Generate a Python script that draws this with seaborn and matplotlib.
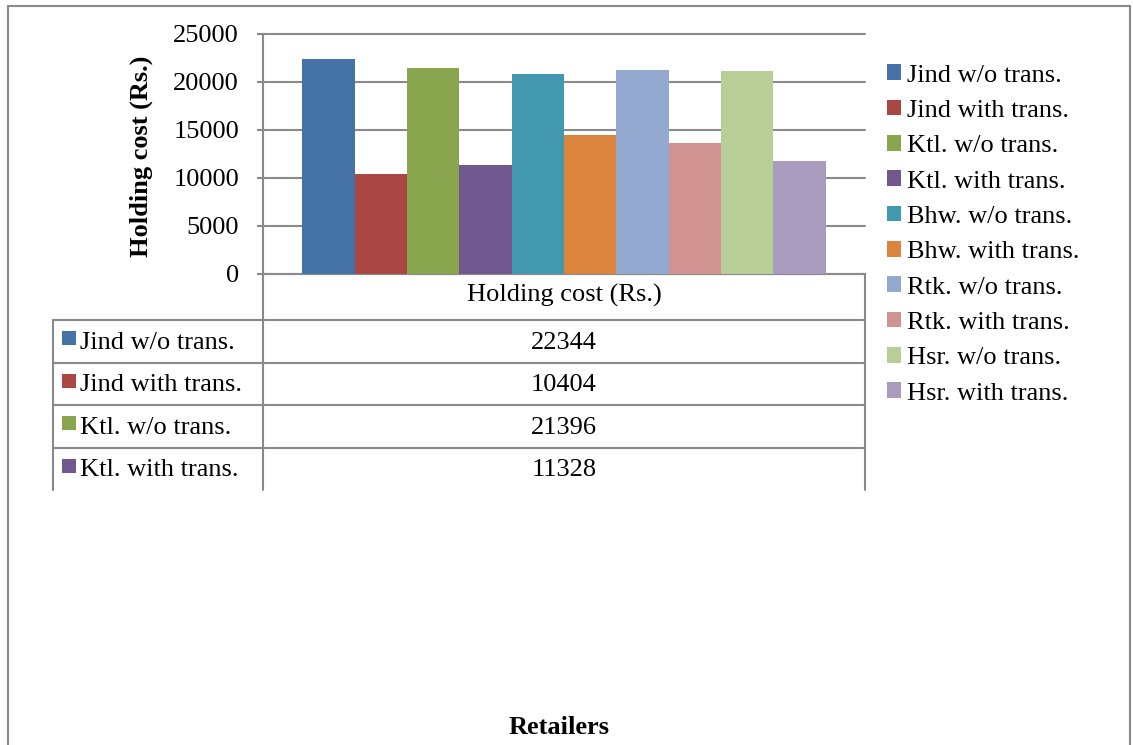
import matplotlib
matplotlib.use("Agg")
import matplotlib.pyplot as plt
from matplotlib.lines import Line2D
from matplotlib.patches import Rectangle
import pandas as pd
import seaborn as sns

# ---- data -------------------------------------------------------------
metric = "Holding cost (Rs.)"
series = ["Jind w/o trans.", "Jind with trans.", "Ktl. w/o trans.", "Ktl. with trans.",
          "Bhw. w/o trans.", "Bhw. with trans.", "Rtk. w/o trans.", "Rtk. with trans.",
          "Hsr. w/o trans.", "Hsr. with trans."]
holding_cost = [22344, 10404, 21396, 11328, 20800, 14450, 21200, 13600, 21100, 11700]
colors = ["#4572A7", "#AA4643", "#89A54E", "#71588F", "#4198AF",
          "#DB843D", "#93A9CF", "#D19392", "#B9CD96", "#A99BBD"]
yticks = [0, 5000, 10000, 15000, 20000, 25000]
x_title = "Retailers"
table_rows = 4          # rows of the data table shown under the plot

# ---- layout helpers (pixel -> figure fraction) ------------------------
W, H = 1133, 745
FS = 19
GRAY = "#8a8a8a"


def fx(px):
    return px / W


def fy(py):
    return 1 - py / H


sns.set_theme(style="white")
plt.rcParams["font.family"] = ["Liberation Serif", "DejaVu Serif"]
plt.rcParams["text.color"] = "black"

fig = plt.figure(figsize=(W / 100, H / 100), dpi=100)
fig.patch.set_facecolor("white")

AX_L, AX_R, AX_T, AX_B = 263, 865, 33.7, 273.7
ax = fig.add_axes([fx(AX_L), fy(AX_B), fx(AX_R) - fx(AX_L), fy(AX_T) - fy(AX_B)])

df = pd.DataFrame({"metric": metric, "series": series, "value": holding_cost})
sns.barplot(data=df, x="metric", y="value", hue="series", hue_order=series,
            palette=colors, saturation=1, width=0.87, linewidth=0,
            errorbar=None, ax=ax, zorder=3)

ax.set_ylim(0, 25000)
ax.set_yticks(yticks)
ax.set_yticklabels([str(t) for t in yticks])
ax.yaxis.grid(True, color=GRAY, lw=1.5)
ax.xaxis.grid(False)
ax.set_axisbelow(True)
for gl in ax.get_ygridlines():
    gl.set_clip_on(False)

for side in ("top", "right"):
    ax.spines[side].set_visible(False)
for side in ("left", "bottom"):
    ax.spines[side].set_color(GRAY)
    ax.spines[side].set_linewidth(1.5)

ax.tick_params(axis="y", length=4.3, width=1.5, color=GRAY, pad=13,
               labelsize=FS, labelcolor="black", left=True)
ax.tick_params(axis="x", length=0, pad=7.5, labelsize=FS, labelcolor="black")
ax.set_xlabel("")
ax.set_ylabel(metric, fontsize=FS, fontweight="bold", color="black")
ax.yaxis.set_label_coords((153 - AX_L) / (AX_R - AX_L), 0.49)

sns.move_legend(ax, "upper left", bbox_to_anchor=(fx(887), fy(64.5)),
                bbox_transform=fig.transFigure, frameon=False, title=None,
                fontsize=FS, handlelength=0.53, handleheight=0.53,
                handletextpad=0.23, labelspacing=0.5, borderpad=0,
                borderaxespad=0)


# ---- data table under the plot ----------------------------------------
def hline(y, x0, x1):
    fig.add_artist(Line2D([fx(x0), fx(x1)], [fy(y), fy(y)], color=GRAY, lw=1.5,
                          transform=fig.transFigure))


def vline(x, y0, y1):
    fig.add_artist(Line2D([fx(x), fx(x)], [fy(y0), fy(y1)], color=GRAY, lw=1.5,
                          transform=fig.transFigure))


TBL_L, TBL_TOP, ROW_H, TBL_END = 53, 320, 42.5, 490
hline(TBL_TOP, TBL_L, AX_R)
for i in range(1, table_rows):
    hline(TBL_TOP + i * ROW_H, TBL_L, AX_R)
vline(TBL_L, TBL_TOP, TBL_END)
vline(AX_L, AX_B, TBL_END)
vline(AX_R, AX_B, TBL_END)

x_mid = (AX_L + AX_R) / 2
for i in range(table_rows):
    cy = TBL_TOP + (i + 0.5) * ROW_H
    fig.add_artist(Rectangle((fx(62), fy(cy + 4)), fx(14), 14 / H,
                             facecolor=colors[i], edgecolor="none",
                             transform=fig.transFigure))
    fig.text(fx(80), fy(cy + 1.5), series[i], ha="left", va="center", fontsize=FS)
    fig.text(fx(x_mid), fy(cy + 1.5), f"{holding_cost[i]}", ha="center",
             va="center", fontsize=FS)

# ---- axis title and chart-area border ---------------------------------
fig.text(fx(559), fy(727), x_title, ha="center", va="center", fontsize=FS,
         fontweight="bold")

vline(7.5, 6, H)
hline(6, 7.5, 1130)
vline(1130, 6, H)

fig.savefig("out.png", dpi=100, facecolor="white")
